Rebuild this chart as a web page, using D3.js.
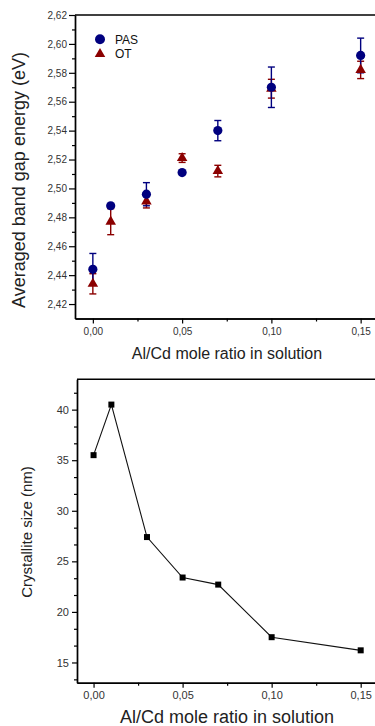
<!DOCTYPE html>
<html>
<head>
<meta charset="utf-8">
<script src="https://cdn.jsdelivr.net/npm/d3@7"></script>
<style>
  body { margin: 0; background: #fff; }
  svg { display: block; font-family: "Liberation Sans", Arial, sans-serif; }
</style>
</head>
<body>
<script>
// ---- data ----
var ratio = [0, 0.01, 0.03, 0.05, 0.07, 0.10, 0.15];
var pas = [2.444, 2.488, 2.496, 2.511, 2.540, 2.570, 2.592];
var pasErr = [0.011, 0, 0.008, 0, 0.007, 0.014, 0.012];
var ot = [2.434, 2.477, 2.491, 2.521, 2.512, 2.569, 2.582];
var otErr = [0.007, 0.009, 0.0045, 0.003, 0.004, 0.0065, 0.006];
var crystSize = [35.5, 40.5, 27.4, 23.4, 22.7, 17.5, 16.2];

var xTicks = [0, 0.05, 0.10, 0.15];
var xMinor = [0.025, 0.075, 0.125];
var gapTicks = [2.42, 2.44, 2.46, 2.48, 2.50, 2.52, 2.54, 2.56, 2.58, 2.60, 2.62];
var gapMinor = [2.43, 2.45, 2.47, 2.49, 2.51, 2.53, 2.55, 2.57, 2.59, 2.61];
var sizeTicks = [15, 20, 25, 30, 35, 40];
var sizeMinor = [13.33, 16.67, 18.33, 21.67, 23.33, 26.67, 28.33, 31.67, 33.33, 36.67, 38.33, 41.67];

var width = 375, height = 726;
var navy = "#00007f";
var darkRed = "#8b0000";

var comma = d3.formatLocale({decimal: ",", thousands: ".", grouping: [3], currency: ["", ""]});
var f2 = comma.format(".2f");

var svg = d3.select("body").append("svg")
    .attr("width", width)
    .attr("height", height);

function styleAxis(g, fs) {
  g.select(".domain").attr("stroke", "#000").attr("stroke-width", 1.4);
  g.selectAll(".tick line").attr("stroke", "#000").attr("stroke-width", 1.2);
  g.selectAll(".tick text").attr("fill", "#333").style("font-size", fs + "px")
    .attr("font-family", "Liberation Sans, Arial, sans-serif");
}

//*********************** Top chart: band gap ********************
var x1 = d3.scaleLinear().domain([-0.01, 0.16]).range([75, 378.5]);
var y1 = d3.scaleLinear().domain([2.41, 2.62]).range([318.5, 15]);

svg.append("g").attr("transform", "translate(75,0)")
    .call(d3.axisLeft(y1).tickValues(gapMinor).tickFormat("").tickSize(3).tickSizeOuter(0))
    .call(function(g) { styleAxis(g, 10); });
svg.append("g").attr("transform", "translate(75,0)")
    .call(d3.axisLeft(y1).tickValues(gapTicks).tickFormat(f2).tickSize(6).tickPadding(2).tickSizeOuter(0))
    .call(function(g) { styleAxis(g, 10); });

svg.append("g").attr("transform", "translate(0,318.5)")
    .call(d3.axisBottom(x1).tickValues(xMinor).tickFormat("").tickSize(3).tickSizeOuter(0))
    .call(function(g) { styleAxis(g, 10); });
svg.append("g").attr("transform", "translate(0,318.5)")
    .call(d3.axisBottom(x1).tickValues(xTicks).tickFormat(f2).tickSize(5).tickPadding(4).tickSizeOuter(0))
    .call(function(g) { styleAxis(g, 10); });

svg.append("line")
    .attr("x1", 75).attr("x2", 378.5)
    .attr("y1", 15).attr("y2", 15)
    .attr("stroke", "#000").attr("stroke-width", 1.4);

svg.append("text")
    .attr("transform", "translate(25,180) rotate(-90)")
    .attr("text-anchor", "middle")
    .style("font-size", "18px")
    .attr("fill", "#222")
    .text("Averaged band gap energy (eV)");

svg.append("text")
    .attr("x", 227).attr("y", 359)
    .attr("text-anchor", "middle")
    .style("font-size", "16px")
    .attr("fill", "#222")
    .text("Al/Cd mole ratio in solution");

// error bars
function errBars(vals, errs, color) {
  var g = svg.append("g").attr("stroke", color).attr("stroke-width", 1.4);
  ratio.forEach(function(r, i) {
    if (!errs[i]) return;
    var cx = x1(r), top = y1(vals[i] + errs[i]), bot = y1(vals[i] - errs[i]);
    g.append("line").attr("x1", cx).attr("x2", cx).attr("y1", top).attr("y2", bot);
    g.append("line").attr("x1", cx - 3.5).attr("x2", cx + 3.5).attr("y1", top).attr("y2", top);
    g.append("line").attr("x1", cx - 3.5).attr("x2", cx + 3.5).attr("y1", bot).attr("y2", bot);
  });
}
errBars(ot, otErr, darkRed);
errBars(pas, pasErr, navy);

var tri = d3.symbol().type(d3.symbolTriangle).size(48);

svg.append("g").selectAll("path")
    .data(ratio)
    .enter().append("path")
    .attr("d", tri)
    .attr("transform", function(d, i) { return "translate(" + x1(d) + "," + y1(ot[i]) + ")"; })
    .attr("fill", darkRed);

svg.append("g").selectAll("circle")
    .data(ratio)
    .enter().append("circle")
    .attr("cx", function(d) { return x1(d); })
    .attr("cy", function(d, i) { return y1(pas[i]); })
    .attr("r", 4.6)
    .attr("fill", navy);

// legend
svg.append("circle").attr("cx", 100).attr("cy", 39.3).attr("r", 5).attr("fill", navy);
svg.append("path").attr("d", tri).attr("transform", "translate(100,54)").attr("fill", darkRed);
svg.append("text").attr("x", 115).attr("y", 43.5).style("font-size", "12px").attr("fill", "#111").text("PAS");
svg.append("text").attr("x", 115).attr("y", 58).style("font-size", "12px").attr("fill", "#111").text("OT");

//*********************** Bottom chart: crystallite size ********************
var x2 = d3.scaleLinear().domain([-0.0093, 0.16]).range([77, 378.5]);
var y2 = d3.scaleLinear().domain([13, 43]).range([682.7, 379.3]);

svg.append("g").attr("transform", "translate(77,0)")
    .call(d3.axisLeft(y2).tickValues(sizeMinor).tickFormat("").tickSize(3).tickSizeOuter(0))
    .call(function(g) { styleAxis(g, 11); });
svg.append("g").attr("transform", "translate(77,0)")
    .call(d3.axisLeft(y2).tickValues(sizeTicks).tickFormat(d3.format("d")).tickSize(5).tickPadding(3).tickSizeOuter(0))
    .call(function(g) { styleAxis(g, 11); });

svg.append("g").attr("transform", "translate(0,682.7)")
    .call(d3.axisBottom(x2).tickValues(xMinor).tickFormat("").tickSize(3).tickSizeOuter(0))
    .call(function(g) { styleAxis(g, 11); });
svg.append("g").attr("transform", "translate(0,682.7)")
    .call(d3.axisBottom(x2).tickValues(xTicks).tickFormat(f2).tickSize(5).tickPadding(4).tickSizeOuter(0))
    .call(function(g) { styleAxis(g, 11); });

svg.append("line")
    .attr("x1", 77).attr("x2", 378.5)
    .attr("y1", 379.3).attr("y2", 379.3)
    .attr("stroke", "#000").attr("stroke-width", 1.4);

svg.append("text")
    .attr("transform", "translate(32,532) rotate(-90)")
    .attr("text-anchor", "middle")
    .style("font-size", "15px")
    .attr("fill", "#222")
    .text("Crystallite size (nm)");

svg.append("text")
    .attr("x", 227).attr("y", 723)
    .attr("text-anchor", "middle")
    .style("font-size", "18px")
    .attr("fill", "#222")
    .text("Al/Cd mole ratio in solution");

var line = d3.line()
    .x(function(d) { return x2(d); })
    .y(function(d, i) { return y2(crystSize[i]); });

svg.append("path")
    .datum(ratio)
    .attr("d", line)
    .attr("fill", "none")
    .attr("stroke", "#111")
    .attr("stroke-width", 1.1);

svg.append("g").selectAll("rect")
    .data(ratio)
    .enter().append("rect")
    .attr("x", function(d) { return x2(d) - 3; })
    .attr("y", function(d, i) { return y2(crystSize[i]) - 3; })
    .attr("width", 6)
    .attr("height", 6)
    .attr("fill", "#000");
</script>
</body>
</html>
